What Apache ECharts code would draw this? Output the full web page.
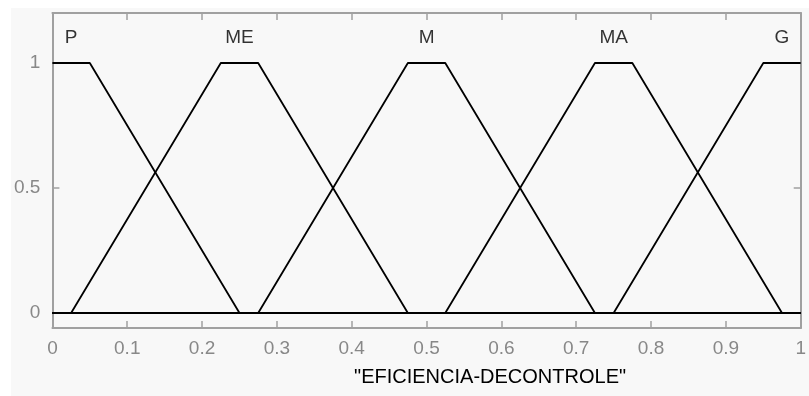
<!DOCTYPE html>
<html lang="pt">
<head>
    <meta charset="UTF-8">
    <title>EFICIENCIA-DECONTROLE</title>
    <style>
        body { margin: 0; background: #fff; }
    </style>
</head>
<body>
    <div id="main" style="position:absolute;left:11px;top:8px;width:798px;height:388px;"></div>

    <script src="https://cdn.jsdelivr.net/npm/echarts@6/dist/echarts.min.js"></script>
    <script type="text/javascript">
        // funcoes de pertinencia (trapezios), vertices
        var pX  = [0, 0.05, 0.25, 1];
        var pY  = [1, 1, 0, 0];
        var meX = [0, 0.025, 0.225, 0.275, 0.475, 1];
        var meY = [0, 0, 1, 1, 0, 0];
        var mX  = [0, 0.275, 0.475, 0.525, 0.725, 1];
        var mY  = [0, 0, 1, 1, 0, 0];
        var maX = [0, 0.525, 0.725, 0.775, 0.975, 1];
        var maY = [0, 0, 1, 1, 0, 0];
        var gX  = [0, 0.75, 0.95, 1];
        var gY  = [0, 0, 1, 1];

        var mfNames = ['P', 'ME', 'M', 'MA', 'G'];
        var labelX  = [0.025, 0.25, 0.5, 0.75, 0.975];
        var labelY  = 1.1;

        var yTicks = [0, 0.5, 1];

        function pts(xs, ys) {
            return xs.map(function (x, i) { return [x, ys[i]]; });
        }

        var curves = [pts(pX, pY), pts(meX, meY), pts(mX, mY), pts(maX, maY), pts(gX, gY)];

        var axisGrey = '#a0a0a0';
        var font = 'Liberation Sans, Arial, sans-serif';

        var myChart = echarts.init(document.getElementById('main'));

        var series = curves.map(function (c, i) {
            return {
                type: 'line',
                name: mfNames[i],
                data: c,
                symbol: 'none',
                lineStyle: { color: '#000', width: 1.8 },
                z: 3
            };
        });

        // nomes das funcoes sobre cada patamar
        series.push({
            type: 'scatter',
            data: mfNames.map(function (n, i) { return { value: [labelX[i], labelY], name: n }; }),
            symbolSize: 0,
            label: {
                show: true,
                position: 'inside',
                formatter: '{b}',
                color: '#000',
                fontSize: 19,
                fontFamily: font
            },
            silent: true
        });

        var tick = { show: true, inside: true, length: 7, lineStyle: { color: axisGrey, width: 1.5 } };
        var line = { show: true, onZero: false, lineStyle: { color: axisGrey, width: 2 } };

        var option = {
            animation: false,
            backgroundColor: '#f8f8f8',
            grid: { left: 37, top: 5, right: 4, bottom: 68 },
            xAxis: [{
                type: 'value',
                min: 0,
                max: 1,
                interval: 0.1,
                position: 'bottom',
                name: '"EFICIENCIA-DECONTROLE"',
                nameLocation: 'middle',
                nameGap: 39,
                nameTextStyle: { color: '#000', fontSize: 20, fontFamily: font, padding: [0, 0, 0, 127] },
                axisLine: line,
                axisTick: tick,
                axisLabel: { color: '#888', fontSize: 19, fontFamily: font, margin: 11 },
                splitLine: { show: false }
            }, {
                type: 'value',
                min: 0,
                max: 1,
                interval: 0.1,
                position: 'top',
                axisLine: line,
                axisTick: tick,
                axisLabel: { show: false },
                splitLine: { show: false }
            }],
            yAxis: [{
                type: 'value',
                min: -0.06,
                max: 1.2,
                position: 'left',
                axisLine: line,
                axisTick: Object.assign({ customValues: yTicks }, tick),
                axisLabel: { color: '#888', fontSize: 19, fontFamily: font, margin: 12, customValues: yTicks },
                splitLine: { show: false }
            }, {
                type: 'value',
                min: -0.06,
                max: 1.2,
                position: 'right',
                axisLine: line,
                axisTick: Object.assign({ customValues: yTicks }, tick),
                axisLabel: { show: false },
                splitLine: { show: false }
            }],
            series: series
        };
        myChart.setOption(option);
    </script>
</body>
</html>
